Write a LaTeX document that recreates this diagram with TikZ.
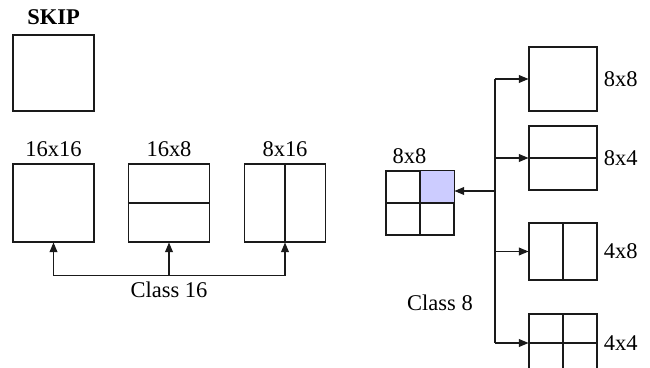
\documentclass[tikz,border=0pt]{standalone}
\usepackage{fontspec}
\setmainfont{Liberation Serif}
\usepackage{tikz}
\usetikzlibrary{arrows.meta,positioning,calc}
\definecolor{ink}{HTML}{1A1A1A}
\definecolor{subbg}{HTML}{CCCCFF}

\begin{document}
\begin{tikzpicture}[x=0.02cm,y=-0.02cm,
  font=\fontsize{12.8}{15}\selectfont,
  line width=0.6pt,
  mb/.style={draw=ink,minimum width=1.62cm,minimum height=1.56cm,inner sep=0pt},
  sb/.style={draw=ink,minimum width=1.36cm,minimum height=1.28cm,inner sep=0pt},
  lbl/.style={inner sep=0.333em},
  arr/.style={-{Triangle[length=5.5pt,width=4.5pt]},draw=ink}]

\useasboundingbox (0,0) rectangle (650,368);
\clip (0,0) rectangle (650,368);

\node[mb,minimum height=1.52cm] (skip) at (53.5,73) {};
\node[mb] (b16) at (53.5,203) {};
\node[mb] (b168) at (169,203) {};
\node[mb] (b816) at (285,203) {};

\node[lbl,font=\fontsize{12.8}{15}\selectfont\bfseries,above=2pt of skip] (tskip) {SKIP};
\node[lbl,above=0pt of b16] (t16) {16x16};
\node[lbl,above=0pt of b168] (t168) {16x8};
\node[lbl,above=0pt of b816] (t816) {8x16};

\draw[ink] (b168.west) -- (b168.east);
\draw[ink] (b816.north) -- (b816.south);

\coordinate (hub16) at ($(b168.south)+(0,33)$);
\draw[arr] (hub16) -- (b168);
\draw[arr] (hub16) -| (b16);
\draw[arr] (hub16) -| (b816);
\node[lbl,below=0pt of hub16] (c16) {Class 16};

\node[sb] (g) at (420,203) {};
\fill[subbg] (g.center) rectangle (g.north east);
\draw[ink] (g.north) -- (g.south);
\draw[ink] (g.west) -- (g.east);
\draw[ink] (g.north west) rectangle (g.south east);
\node[lbl,above=0pt of g,xshift=-6pt] (tg) {8x8};

\node[sb] (r88) at (563,79) {};
\node[sb] (r84) at (563,158) {};
\node[sb,minimum height=1.14cm] (r48) at (563,251.5) {};
\node[sb,minimum height=1.16cm] (r44) at (563,343) {};

\draw[ink] (r84.west) -- (r84.east);
\draw[ink] (r48.north) -- (r48.south);
\draw[ink] (r44.north) -- (r44.south);
\draw[ink] (r44.west) -- (r44.east);

\node[lbl,right=0pt of r88] (t88) {8x8};
\node[lbl,right=0pt of r84] (t84) {8x4};
\node[lbl,right=0pt of r48] (t48) {4x8};
\node[lbl,right=0pt of r44] (t44) {4x4};

\coordinate (spine) at (495,191);
\draw[ink] (spine |- r88) -- (spine |- r44);
\draw[arr] (spine |- r88) -- (r88);
\draw[arr] (spine |- r84) -- (r84);
\draw[arr] (spine |- r48) -- (r48);
\draw[arr] (spine |- r44) -- (r44);
\draw[arr] (spine) -- (spine -| g.east);

\node[lbl] (c8) at (440,303) {Class 8};
\end{tikzpicture}
\end{document}
